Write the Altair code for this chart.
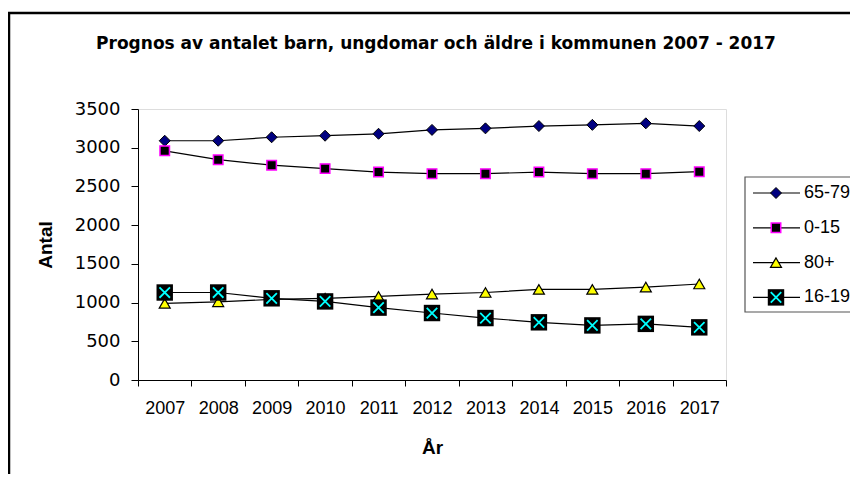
import altair as alt
import pandas as pd

years = [2007, 2008, 2009, 2010, 2011, 2012, 2013, 2014, 2015, 2016, 2017]
series_names = ["65-79", "0-15", "80+", "16-19"]
v_65_79 = [3090, 3090, 3135, 3155, 3180, 3230, 3250, 3280, 3295, 3315, 3280]
v_0_15 = [2960, 2845, 2775, 2730, 2685, 2665, 2665, 2685, 2665, 2665, 2690]
v_80 = [990, 1010, 1040, 1055, 1080, 1110, 1130, 1170, 1170, 1200, 1240]
v_16_19 = [1130, 1130, 1055, 1015, 935, 865, 800, 745, 705, 725, 680]
y_ticks = [0, 500, 1000, 1500, 2000, 2500, 3000, 3500]
chart_title = "Prognos av antalet barn, ungdomar och äldre i kommunen 2007 - 2017"

values = {"65-79": v_65_79, "0-15": v_0_15, "80+": v_80, "16-19": v_16_19}
rows = []
for s in series_names:
    for y, v in zip(years, values[s]):
        rows.append({"year": y, "value": v, "series": s})
df = pd.DataFrame(rows)

leg = pd.DataFrame({"series": series_names, "idx": list(range(len(series_names)))})

FONT = "Liberation Sans"
W, H = 588, 271

xenc = alt.X("year:O", scale=alt.Scale(paddingInner=0, paddingOuter=0),
             axis=alt.Axis(title="År", labelAngle=0, tickBand="extent", labelFontSize=18,
                           labelFont=FONT, labelColor="black", labelPadding=13,
                           titleFont=FONT, titleFontSize=19, titleFontWeight="bold",
                           titleColor="black", titlePadding=21, domainColor="black",
                           tickColor="black", tickSize=6))
yenc = alt.Y("value:Q", scale=alt.Scale(domain=[0, 3500], nice=False),
             axis=alt.Axis(title="Antal", values=y_ticks, format="d", grid=False,
                           labelOverlap=False, labelFontSize=18,
                           labelFont="DejaVu Sans", labelColor="black", labelPadding=11,
                           titleFont=FONT, titleFontSize=19, titleFontWeight="bold",
                           titleColor="black", titlePadding=19, domainColor="black",
                           tickColor="black", tickSize=7))

base = alt.Chart(df)

def sub(s):
    return base.transform_filter(alt.datum.series == s)

lines = base.mark_line(color="black", strokeWidth=1.2).encode(
    x=xenc, y=yenc, detail="series:N")

p1 = sub("65-79").mark_point(shape="diamond", filled=True, fill="#000080", stroke="black",
                             strokeWidth=1, size=121, opacity=1).encode(x=xenc, y=yenc)
p2 = sub("0-15").mark_point(shape="square", filled=True, fill="black", stroke="#FF00FF",
                            strokeWidth=1.5, size=90, opacity=1).encode(x=xenc, y=yenc)
p3 = sub("80+").mark_point(shape="triangle-up", filled=True, fill="#FFFF00", stroke="black",
                           strokeWidth=1.2, size=121, opacity=1).encode(x=xenc, y=yenc)
p4a = sub("16-19").mark_point(shape="square", filled=True, fill="black", stroke="black",
                              strokeWidth=0, size=270, opacity=1).encode(x=xenc, y=yenc)
p4b = sub("16-19").mark_point(shape="M-1,-1L1,1M1,-1L-1,1", filled=False, stroke="#00FFFF",
                              strokeWidth=1.8, size=110, opacity=1).encode(x=xenc, y=yenc)

# outer frame and title
one = pd.DataFrame({"title": [chart_title]})
frame = alt.Chart(one).mark_rect(fill="transparent", stroke="black", strokeWidth=2.5).encode(
    x=alt.value(-129), x2=alt.value(760), y=alt.value(-96), y2=alt.value(420))
title = alt.Chart(one).mark_text(font="DejaVu Sans", fontWeight="bold", fontSize=17,
                                 color="black", align="center", baseline="middle").encode(
    x=alt.value(298), y=alt.value(-65), text="title:N")

# legend
LX0, LX1, LM, LT = 615, 662, 638, 666
ly = alt.Y("ly:Q", scale=None, axis=None)
legbase = alt.Chart(leg).transform_calculate(ly="84 + 34.8 * datum.idx")
legbox = alt.Chart(one).mark_rect(fill="white", stroke="#555555", strokeWidth=1.2).encode(
    x=alt.value(607), x2=alt.value(760), y=alt.value(68), y2=alt.value(203))
legrule = legbase.mark_rule(color="black", strokeWidth=1.2).encode(
    x=alt.value(LX0), x2=alt.value(LX1), y=ly)
legtext = legbase.mark_text(align="left", baseline="middle", font=FONT, fontSize=18,
                            color="black").encode(x=alt.value(LT), y=ly, text="series:N")

def legsub(s):
    return legbase.transform_filter(alt.datum.series == s)

l1 = legsub("65-79").mark_point(shape="diamond", filled=True, fill="#000080", stroke="black",
                                strokeWidth=1, size=121, opacity=1).encode(x=alt.value(LM), y=ly)
l2 = legsub("0-15").mark_point(shape="square", filled=True, fill="black", stroke="#FF00FF",
                               strokeWidth=1.5, size=90, opacity=1).encode(x=alt.value(LM), y=ly)
l3 = legsub("80+").mark_point(shape="triangle-up", filled=True, fill="#FFFF00", stroke="black",
                              strokeWidth=1.2, size=121, opacity=1).encode(x=alt.value(LM), y=ly)
l4a = legsub("16-19").mark_point(shape="square", filled=True, fill="black", stroke="black",
                                 strokeWidth=0, size=270, opacity=1).encode(x=alt.value(LM), y=ly)
l4b = legsub("16-19").mark_point(shape="M-1,-1L1,1M1,-1L-1,1", filled=False, stroke="#00FFFF",
                                 strokeWidth=1.8, size=110, opacity=1).encode(x=alt.value(LM), y=ly)

chart = alt.layer(
    frame, title, lines, p1, p2, p3, p4a, p4b,
    legbox, legrule, l1, l2, l3, l4a, l4b, legtext
).properties(
    width=W, height=H,
    autosize=alt.AutoSizeParams(type="none"),
    padding={"left": 130, "top": 101, "right": 124, "bottom": 94},
).configure_view(stroke=None).configure(background="white")

chart.save("out.html", embed_options={"renderer": "svg", "actions": False})
